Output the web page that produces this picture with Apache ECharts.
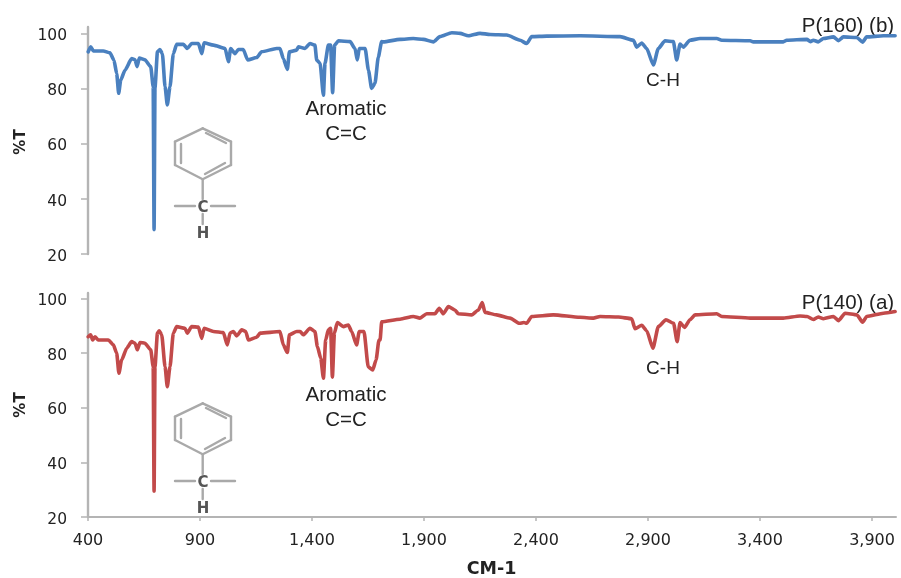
<!DOCTYPE html>
<html>
<head>
<meta charset="utf-8">
<style>html,body{margin:0;padding:0;background:#fff}#c{width:901px;height:578px;filter:blur(0.45px)}</style>
<script src="https://cdn.jsdelivr.net/npm/echarts@6/dist/echarts.min.js"></script>
</head>
<body>
<div id="c"></div>
<script>
var xTicks = [400, 900, 1400, 1900, 2400, 2900, 3400, 3900];
var yTicks = [20, 40, 60, 80, 100];

var spectrumTop = [
[401,93.5],[412,95.3],[424,93.8],[468,93.8],[498,93.1],[516,90.4],[528,85.6],[537,78.4],[546,83.2],[565,86.8],[595,91],[610,90.6],[619,88.1],[629,91.2],[654,90.6],[680,88.1],[691,80.8],[695,28.9],[699,80.4],[710,93.5],[721,94.3],[732,92.8],[744,80.8],[754,74.2],[766,80.8],[781,92.8],[796,96.2],[826,96.2],[843,94.7],[863,96.5],[893,96.5],[908,92.8],[918,96.8],[960,95.9],[1012,94.7],[1027,89.9],[1037,94.7],[1056,92.8],[1071,94.3],[1093,94.3],[1113,90.5],[1153,91.4],[1175,93.5],[1242,94.7],[1257,94.7],[1272,91],[1290,87.1],[1299,93.5],[1332,94.1],[1339,95.3],[1369,94.7],[1391,96.5],[1413,95.9],[1421,90.5],[1436,89.3],[1451,77.7],[1458,89.3],[1473,95.9],[1483,95.9],[1492,78.6],[1501,95.9],[1518,97.5],[1570,97.2],[1592,94.7],[1602,90.5],[1611,94.7],[1637,94.7],[1652,86.8],[1666,80.2],[1681,82],[1696,91.6],[1711,97.2],[1718,97.1],[1793,98],[1852,98.3],[1897,98],[1942,97.1],[1971,99],[2024,100.4],[2061,100.2],[2098,99.3],[2150,100.2],[2195,99.8],[2269,99.6],[2329,97.7],[2358,96.5],[2381,99],[2448,99.2],[2596,99.3],[2775,99],[2835,97.7],[2849,95.2],[2872,96.7],[2894,94.7],[2924,88.7],[2946,94.7],[2976,97.5],[3013,97.2],[3028,90.5],[3043,96.3],[3058,95.2],[3087,97.7],[3132,98.3],[3207,98.3],[3229,97.7],[3356,97.5],[3370,97.1],[3504,97.1],[3519,97.7],[3609,98],[3625,97.2],[3638,97.7],[3660,97.1],[3683,98.3],[3728,98.9],[3750,97.5],[3772,98.9],[3832,98.7],[3858,97],[3876,98.9],[3951,99.3],[4003,99.3]
];

var spectrumBottom = [
[401,86],[412,86.7],[421,84.8],[431,86],[446,84.8],[491,84.8],[513,83],[528,80],[538,72.6],[550,77.5],[573,81.8],[595,84.2],[610,83.6],[620,81.2],[632,83.9],[654,83.6],[680,81.2],[691,75],[695,29.5],[699,75],[710,87.3],[718,88.2],[729,86.7],[744,75],[754,67.7],[766,75],[781,87.3],[796,89.7],[833,89.1],[843,87.3],[863,89.7],[893,89.5],[908,85.4],[918,89.1],[960,87.9],[1004,87.5],[1022,83],[1034,87.3],[1049,87.9],[1064,86.3],[1086,88.5],[1104,87.9],[1116,84.8],[1153,85.8],[1168,87.3],[1257,87.9],[1272,83],[1290,80.2],[1299,86.7],[1332,87.9],[1347,87.9],[1361,86.7],[1391,89.1],[1413,87.9],[1424,82.4],[1439,78.1],[1451,70.8],[1461,84.8],[1473,88.5],[1483,89.1],[1491,71.2],[1500,87.3],[1513,91.2],[1540,89.7],[1562,90.3],[1577,87.9],[1599,83],[1611,87.9],[1632,87.9],[1651,75],[1671,73.8],[1686,77.5],[1699,84.8],[1704,84.8],[1711,91.5],[1793,92.4],[1852,93.4],[1882,92.8],[1912,94.4],[1949,94.4],[1968,96.4],[1986,94.4],[2009,97],[2038,95.8],[2053,94.4],[2113,94],[2143,95.8],[2160,98.5],[2172,94.9],[2224,94],[2284,92.8],[2326,90.9],[2346,91.2],[2358,90.9],[2381,93.4],[2477,94],[2596,93.1],[2656,92.8],[2686,93.4],[2768,93.2],[2827,92.6],[2842,88.9],[2872,90.2],[2894,88.2],[2922,81.8],[2946,89.7],[2980,92.2],[3014,90.9],[3030,84.2],[3043,91.2],[3063,89.4],[3087,92.2],[3110,94],[3207,94.4],[3229,93.4],[3356,92.8],[3504,92.8],[3579,93.6],[3610,93.4],[3638,92.3],[3660,93.2],[3683,92.6],[3728,93.4],[3750,91.9],[3780,94.6],[3832,94],[3858,91.3],[3876,93.4],[3951,94.6],[4003,95.2]
];

var titleTop = "P(160) (b)";
var titleBottom = "P(140) (a)";
var xName = "CM-1";
var yName = "%T";
var bandAromatic = "Aromatic\nC=C";
var bandCH = "C-H";

var AXIS = "#b4b4b4", TXT = "#222", MOL = "#a9a9a9";

function fmt(v){ return String(v).replace(/\B(?=(\d{3})+$)/g, ","); }

function xAxis(idx, showAll){
  return {
    type: "value", gridIndex: idx, min: 400, max: 4007,
    axisLine: {show: showAll, lineStyle: {color: AXIS, width: 2}},
    axisTick: {show: showAll, length: 4, customValues: xTicks, lineStyle: {color: AXIS, width: 1.5}},
    axisLabel: {show: showAll, customValues: xTicks, margin: 16, formatter: fmt,
      fontFamily: "DejaVu Sans", fontSize: 16, color: "#222"},
    splitLine: {show: false}
  };
}
function yAxis(idx, top){
  return {
    type: "value", gridIndex: idx, min: 20, max: top,
    axisLine: {show: true, onZero: false, lineStyle: {color: AXIS, width: 2.4}},
    axisTick: {show: true, length: 7, customValues: yTicks, lineStyle: {color: AXIS, width: 1.5}},
    axisLabel: {customValues: yTicks, margin: 21, verticalAlign: "top", lineHeight: 5,
      fontFamily: "DejaVu Sans", fontSize: 15.5, color: "#222"},
    splitLine: {show: false}
  };
}
function line(name, data, idx, color){
  return {
    name: name, type: "line", xAxisIndex: idx, yAxisIndex: idx, data: data,
    showSymbol: false, smooth: 0.2, smoothMonotone: "x", clip: false, animation: false,
    lineStyle: {color: color, width: 3.6, join: "round", cap: "round"}, itemStyle: {color: color}
  };
}
function txt(x, y, s, size, extra){
  return {type: "text", x: x, y: y, rotation: (extra && extra.rot) || 0, silent: true, style: {
    text: s, fill: (extra && extra.fill) || TXT, align: "center", verticalAlign: "middle",
    fontFamily: (extra && extra.font) || "Liberation Sans", fontSize: size,
    fontWeight: (extra && extra.weight) || "normal", lineHeight: (extra && extra.lh) || size + 4
  }};
}
function seg(x1, y1, x2, y2, dy){
  return {type: "line", silent: true, shape: {x1: x1, y1: y1 + dy, x2: x2, y2: y2 + dy},
    style: {stroke: MOL, lineWidth: 2.4, lineCap: "round"}};
}
function molecule(dy){
  var hex = [[202.7,128.3],[231,141.7],[231,165],[202.7,179.3],[175,165],[175,141.7],[202.7,128.3]];
  var out = [];
  for (var i = 0; i < 6; i++) out.push(seg(hex[i][0], hex[i][1], hex[i+1][0], hex[i+1][1], dy));
  out.push(seg(181,144,181,163,dy));
  out.push(seg(206,133,226,143,dy));
  out.push(seg(205,174,225,163,dy));
  out.push(seg(202.7,179.3,202.7,199,dy));
  out.push(seg(175,206,195,206,dy));
  out.push(seg(211,206,235,206,dy));
  out.push(seg(202.7,214,202.7,224,dy));
  out.push(txt(203, 208.5 + dy, "C", 15, {font:"DejaVu Sans", weight:"bold", fill:"#555"}));
  out.push(txt(203, 234.5 + dy, "H", 15, {font:"DejaVu Sans", weight:"bold", fill:"#555"}));
  return out;
}

var chart = echarts.init(document.getElementById("c"), null, {renderer: "canvas"});
chart.setOption({
  animation: false,
  backgroundColor: "#fff",
  grid: [
    {left: 88, width: 808, top: 27, height: 227},
    {left: 88, width: 808, top: 293, height: 224}
  ],
  xAxis: [xAxis(0, false), xAxis(1, true)],
  yAxis: [yAxis(0, 102.5), yAxis(1, 102)],
  series: [
    line(titleTop, spectrumTop, 0, "#4a80bf"),
    line(titleBottom, spectrumBottom, 1, "#c24a4a")
  ],
  graphic: [].concat(
    molecule(0), molecule(275),
    [
      txt(346, 122, bandAromatic, 20.5, {lh: 25}),
      txt(346, 408, bandAromatic, 20.5, {lh: 25}),
      txt(663, 81, bandCH, 19),
      txt(663, 369, bandCH, 19),
      txt(848, 26.5, titleTop, 20.5),
      txt(848, 303, titleBottom, 20.5),
      txt(21, 142, yName, 15, {font:"DejaVu Sans", weight:"bold", rot: Math.PI/2}),
      txt(21, 405, yName, 15, {font:"DejaVu Sans", weight:"bold", rot: Math.PI/2}),
      txt(491.5, 569, xName, 17.5, {font:"DejaVu Sans", weight:"bold"})
    ]
  )
});
</script>
</body>
</html>
